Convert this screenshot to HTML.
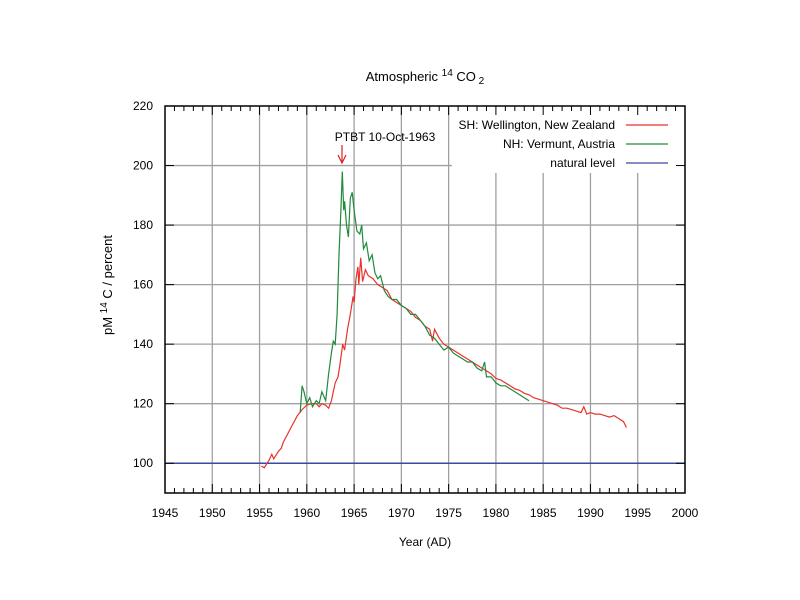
<!DOCTYPE html>
<html><head><meta charset="utf-8"><style>
body{margin:0;background:#fff;}
svg{display:block;font-family:"Liberation Sans",sans-serif;}
</style></head><body>
<svg id="chart" width="800" height="600" viewBox="0 0 800 600">
<rect width="800" height="600" fill="#fff"/>
<g id="grid"></g>
<g id="series"></g>
<rect x="452" y="107" width="232" height="66" fill="#fff"/>
<g id="axes"></g>
<text x="425" y="81" font-size="13" text-anchor="middle">Atmospheric <tspan font-size="10" dy="-5">14</tspan><tspan dy="5"> CO</tspan><tspan font-size="10" dy="3"> 2</tspan></text>
<text x="425" y="546" font-size="12" text-anchor="middle">Year (AD)</text>
<text transform="translate(112,285) rotate(-90)" font-size="13" text-anchor="middle">pM <tspan font-size="10" dy="-5">14</tspan><tspan dy="5"> C / percent</tspan></text>
<text x="385" y="141" font-size="12" text-anchor="middle">PTBT 10-Oct-1963</text>
<g><line x1="342" y1="145" x2="342" y2="162" stroke="#e02020" stroke-width="1.2"/><path d="M338,155 L342,163 L346,155" fill="none" stroke="#e02020" stroke-width="1.2"/></g>
<g>
<g><text x="615" y="129" font-size="12" text-anchor="end">SH: Wellington, New Zealand</text><line x1="626" y1="125" x2="668" y2="125" stroke="#e8322a" stroke-width="1.2"/></g>
<g><text x="615" y="148" font-size="12" text-anchor="end">NH: Vermunt, Austria</text><line x1="626" y1="144" x2="668" y2="144" stroke="#1f8a3c" stroke-width="1.2"/></g>
<g><text x="615" y="167" font-size="12" text-anchor="end">natural level</text><line x1="626" y1="163" x2="668" y2="163" stroke="#3a4aa0" stroke-width="1.2"/></g>
</g>
</svg>
<script>
const shYears=[1955.2,1955.5,1955.8,1956,1956.3,1956.5,1956.8,1957,1957.3,1957.5,1958,1958.5,1959,1959.5,1960,1960.5,1961,1961.3,1961.6,1962,1962.3,1962.6,1963,1963.3,1963.5,1963.8,1964,1964.3,1964.6,1964.9,1965,1965.2,1965.4,1965.5,1965.7,1965.9,1966.2,1966.5,1967,1967.5,1968,1968.5,1969,1969.5,1970,1970.5,1971,1971.5,1972,1972.5,1973,1973.3,1973.5,1974,1974.5,1975,1975.5,1976,1976.5,1977,1977.5,1978,1978.5,1979,1979.5,1980,1980.5,1981,1981.5,1982,1982.5,1983,1983.5,1984,1984.5,1985,1985.5,1986,1986.5,1987,1987.5,1988,1988.5,1989,1989.3,1989.6,1990,1990.5,1991,1991.5,1992,1992.5,1993,1993.5,1993.8];
const shValues=[99,98.5,100,101,103,101.5,103,104,105,107,110,113,116,118,119.5,120,120,119,120,119.5,118.5,121,127,129,133,140,138,145,150,156,154,162,166,160,169,161,165,163,162,160,159,158,155,154,153,152,151,149,148,146,145,141,145,142,140,139,138,137,136,135,134,133,132,131,130,128.5,128,127,126,125,124.5,123.5,123,122,121.5,121,120.5,120,119.5,118.5,118.5,118,117.5,117,119,116.5,117,116.5,116.5,116,115.5,116,115,114,112];
const nhYears=[1959.3,1959.5,1959.7,1960,1960.3,1960.6,1961,1961.3,1961.6,1962,1962.3,1962.6,1962.8,1963,1963.2,1963.4,1963.6,1963.75,1963.9,1964,1964.2,1964.4,1964.6,1964.8,1965,1965.3,1965.6,1965.8,1966,1966.3,1966.6,1966.9,1967.2,1967.5,1967.8,1968.2,1968.6,1969,1969.5,1970,1970.5,1971,1971.5,1972,1972.5,1973,1973.5,1974,1974.5,1975,1975.5,1976,1976.5,1977,1977.5,1978,1978.5,1978.8,1979,1979.5,1980,1980.5,1981,1981.5,1982,1982.5,1983,1983.5];
const nhValues=[117,126,124,120,122,119,121,120,124,121,130,137,141,140,150,170,185,198,185,188,180,176,189,191,185,178,177,180,172,174,168,170,164,162,163,158,156,155,155,153,152,150,150,148,146,143,142,140,138,139,137,136,135,134,134,132,131,134,129,129,127,126,126,125,124,123,122,121];
const naturalLevel=100;
const xTicks=[1945,1950,1955,1960,1965,1970,1975,1980,1985,1990,1995,2000];
const yTicks=[100,120,140,160,180,200,220];
const NS="http://www.w3.org/2000/svg";
const X0=165,X1=685,Y0=493,Y1=106,xMin=1945,xMax=2000,yMin=90,yMax=220;
function xs(v){return X0+(v-xMin)/(xMax-xMin)*(X1-X0);}
function ys(v){return Y0-(v-yMin)/(yMax-yMin)*(Y0-Y1);}
function mk(tag,attrs,parent){const e=document.createElementNS(NS,tag);for(const k in attrs)e.setAttribute(k,attrs[k]);parent.appendChild(e);return e;}
const grid=document.getElementById('grid'),axes=document.getElementById('axes'),ser=document.getElementById('series');
xTicks.forEach(t=>{
  if(t>xMin&&t<xMax){const l=mk('line',{x1:xs(t),x2:xs(t),y1:Y0,y2:Y1,stroke:'#a0a0a0','stroke-width':1.3},grid);
  
  }
  const tx=mk('text',{x:xs(t),y:Y0+24,'font-size':12,'text-anchor':'middle'},axes);tx.textContent=t;
  
  
});
yTicks.forEach(t=>{
  if(t<yMax){const l=mk('line',{x1:X0,x2:X1,y1:ys(t),y2:ys(t),stroke:'#a0a0a0','stroke-width':1.3},grid);
  
  }
  mk('line',{x1:X0,x2:X0+9,y1:ys(t),y2:ys(t),stroke:'#000'},axes);
  mk('line',{x1:X1,x2:X1-9,y1:ys(t),y2:ys(t),stroke:'#000'},axes);
  const tx=mk('text',{x:X0-12,y:ys(t)+4,'font-size':12,'text-anchor':'end'},axes);tx.textContent=t;
  
  
});
for(let y=xMin;y<=xMax;y++){const len=(y%5===0)?9:5;
  mk('line',{x1:xs(y),x2:xs(y),y1:Y0,y2:Y0-len,stroke:'#000'},axes);
  mk('line',{x1:xs(y),x2:xs(y),y1:Y1,y2:Y1+len,stroke:'#000'},axes);}
const frame=mk('rect',{x:X0,y:Y1,width:X1-X0,height:Y0-Y1,fill:'none',stroke:'#000','stroke-width':1.5},axes);


function line(xa,ya,color,name){
  const d=xa.map((x,i)=>(i?'L':'M')+xs(x).toFixed(1)+','+ys(ya[i]).toFixed(1)).join('');
  const p=mk('path',{d:d,fill:'none',stroke:color,'stroke-width':1.2},ser);
  
  
}
const nat=mk('line',{x1:X0,x2:X1,y1:ys(naturalLevel),y2:ys(naturalLevel),stroke:'#3a4aa0','stroke-width':1.5},ser);


line(shYears,shValues,'#e8322a','sh-wellington-line');
line(nhYears,nhValues,'#1f8a3c','nh-vermunt-line');
</script>
</body></html>
